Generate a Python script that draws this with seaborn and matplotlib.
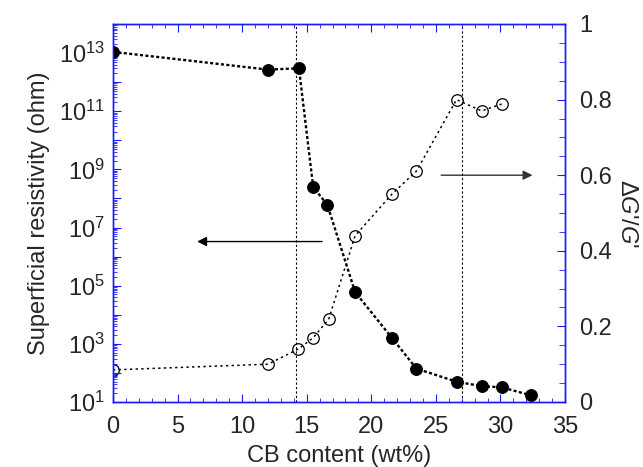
import numpy as np
import pandas as pd
import matplotlib
matplotlib.use("Agg")
import matplotlib.pyplot as plt
import matplotlib.ticker as mticker
import seaborn as sns

# Data
cb_res = [0, 12.0, 14.4, 15.5, 16.6, 18.75, 21.6, 23.5, 26.6, 28.55, 30.1, 32.35]
resistivity = [1.1e13, 2.7e12, 3.0e12, 2.5e8, 6.0e7, 6.0e4, 1.6e3, 1.4e2, 50, 35, 32, 17]
cb_g = [0, 12.0, 14.35, 15.5, 16.7, 18.75, 21.6, 23.5, 26.6, 28.55, 30.15]
delta_g = [0.085, 0.10, 0.14, 0.17, 0.219, 0.44, 0.55, 0.611, 0.80, 0.77, 0.789]
threshold_lines = [14.2, 27.0]

sns.set_style("ticks")
plt.rcParams['font.family'] = ['Liberation Sans', 'DejaVu Sans']
plt.rcParams['mathtext.fontset'] = 'custom'
plt.rcParams['mathtext.rm'] = 'Liberation Sans'
plt.rcParams['mathtext.it'] = 'Liberation Sans:italic'
plt.rcParams['mathtext.default'] = 'regular'

blue = '#1a1aff'
fs = 17

fig = plt.figure(figsize=(6.43, 4.67), dpi=100)
ax = fig.add_axes([113/643, 1-402/467, (565-113)/643, (402-24)/467])
ax2 = ax.twinx()

df1 = pd.DataFrame({'cb': cb_res, 'r': resistivity})
df2 = pd.DataFrame({'cb': cb_g, 'g': delta_g})

sns.lineplot(data=df1, x='cb', y='r', ax=ax, sort=False, color='black',
             linestyle=(0, (1.3, 1.0)), linewidth=1.7, marker='o', markersize=8.5,
             markerfacecolor='black', markeredgecolor='black')
sns.lineplot(data=df2, x='cb', y='g', ax=ax2, sort=False, color='black',
             linestyle=(0, (1.5, 2.2)), linewidth=1.1, marker='o', markersize=8.3,
             markerfacecolor='none', markeredgecolor='black', markeredgewidth=0.9)

for xv in threshold_lines:
    ax.axvline(xv, color='black', linestyle=(0, (2, 2)), linewidth=0.8, zorder=0)

ax.set_yscale('log')
ax.set_xlim(0, 35)
ax.set_ylim(10, 1e14)
ax2.set_ylim(0, 1)

ax.set_xticks(np.arange(0, 36, 5))
ax.xaxis.set_minor_locator(mticker.MultipleLocator(1))
ax.yaxis.set_major_locator(mticker.FixedLocator([10.0**k for k in range(1, 15)]))
ax.yaxis.set_major_formatter(mticker.FuncFormatter(
    lambda v, p: (r'$10^{%d}$' % int(round(np.log10(v)))) if int(round(np.log10(v))) % 2 == 1 else ''))
ax.yaxis.set_minor_locator(mticker.LogLocator(base=10, subs=np.arange(2, 10), numticks=100))
ax.yaxis.set_minor_formatter(mticker.NullFormatter())

ax2.set_yticks([0, 0.2, 0.4, 0.6, 0.8, 1.0])
ax2.set_yticklabels(['0', '0.2', '0.4', '0.6', '0.8', '1'])
ax2.yaxis.set_minor_locator(mticker.MultipleLocator(0.05))

for a in (ax, ax2):
    for s in a.spines.values():
        s.set_color(blue)
        s.set_linewidth(1.0)

ax.tick_params(axis='x', which='both', direction='in', top=True, bottom=True, color=blue, labelsize=fs, pad=10)
ax.tick_params(axis='x', which='major', length=6)
ax.tick_params(axis='x', which='minor', length=3)
ax.tick_params(axis='y', which='both', direction='in', left=True, right=False, color=blue, labelsize=fs, pad=6)
ax.tick_params(axis='y', which='major', length=6)
ax.tick_params(axis='y', which='minor', length=3)
ax2.tick_params(axis='y', which='both', direction='in', right=True, left=False, color=blue, labelsize=fs, pad=10)
ax2.tick_params(axis='y', which='major', length=6)
ax2.tick_params(axis='y', which='minor', length=4)

ax.set_xlabel('CB content (wt%)', fontsize=fs, labelpad=5)
ax.set_ylabel('Superficial resistivity (ohm)', fontsize=fs, labelpad=6)
ax2.set_ylabel("Δ$\\mathit{G}$'/$\\mathit{G}$'", fontsize=fs, rotation=-90, labelpad=19)

# Arrows
ax.annotate('', xy=(6.3, 3.3e6), xytext=(16.4, 3.3e6),
            arrowprops=dict(arrowstyle='-|>', color='black', lw=1.0, mutation_scale=14))
ax2.annotate('', xy=(32.7, 0.6), xytext=(25.2, 0.6),
            arrowprops=dict(arrowstyle='-|>', color='#333333', lw=1.0, mutation_scale=14))

ax.set_zorder(ax2.get_zorder() + 1)
ax.patch.set_visible(False)

fig.savefig('out.png', dpi=100)
